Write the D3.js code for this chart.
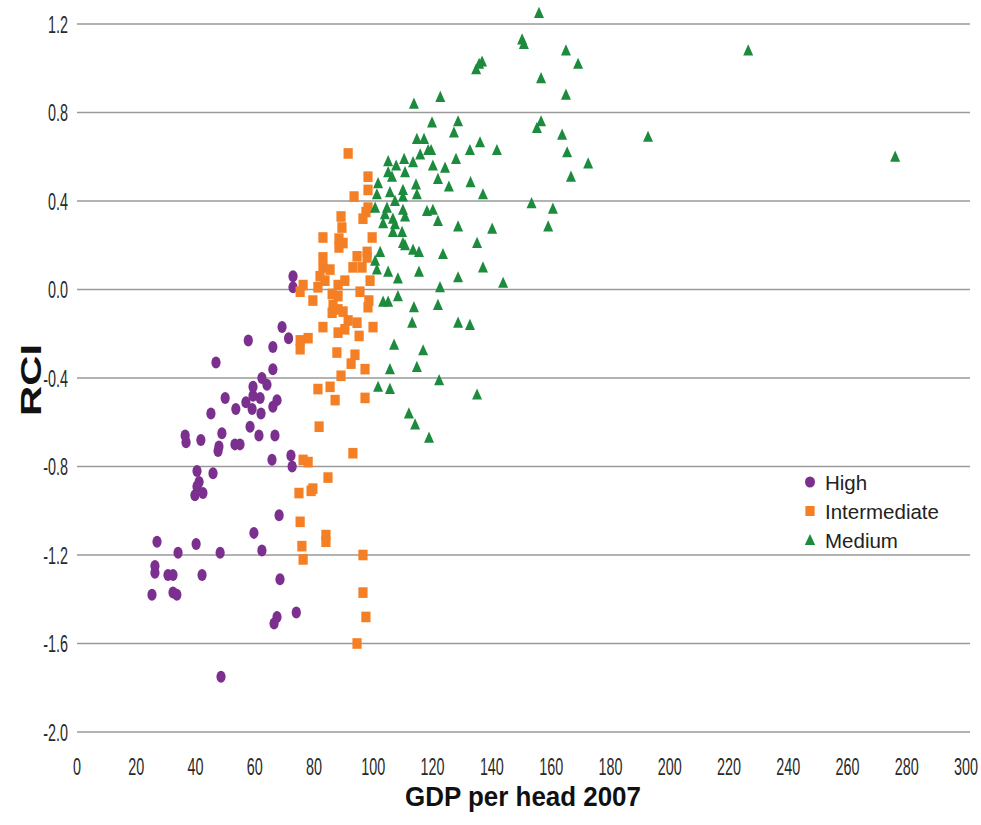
<!DOCTYPE html>
<html>
<head>
<meta charset="utf-8">
<script src="https://cdn.jsdelivr.net/npm/d3@7"></script>
<style>
  html, body { margin: 0; padding: 0; background: #fff; }
  svg { display: block; }
</style>
</head>
<body>
<svg id="chart" width="981" height="825"></svg>
<script>
// ---------- DATA ----------
const seriesNames = ["High", "Intermediate", "Medium"];
const xTicks = [0, 20, 40, 60, 80, 100, 120, 140, 160, 180, 200, 220, 240, 260, 280, 300];
const yTicks = [1.2, 0.8, 0.4, 0.0, -0.4, -0.8, -1.2, -1.6, -2.0];

// [GDP per head 2007, RCI]
const highPoints = [
  [72.9, 0.06], [72.9, 0.01], [69.2, -0.17], [71.4, -0.22], [57.8, -0.23], [66.1, -0.26],
  [46.9, -0.33], [66.1, -0.36], [62.4, -0.40], [64.1, -0.43], [59.4, -0.44], [59.4, -0.48],
  [61.8, -0.49], [50.0, -0.49], [57.0, -0.51], [67.5, -0.50], [66.1, -0.53], [53.6, -0.54],
  [59.1, -0.54], [62.1, -0.56], [45.2, -0.56], [58.4, -0.62], [48.9, -0.65], [61.4, -0.66],
  [66.8, -0.66], [36.5, -0.66], [36.8, -0.69], [41.8, -0.68], [55.0, -0.70], [53.3, -0.70],
  [47.9, -0.71], [47.6, -0.73], [65.8, -0.77], [72.2, -0.75], [72.6, -0.80], [40.5, -0.82],
  [45.9, -0.83], [41.2, -0.87], [40.5, -0.89], [39.8, -0.93], [42.5, -0.92], [68.2, -1.02],
  [59.7, -1.10], [62.4, -1.18], [27.0, -1.14], [40.2, -1.15], [34.1, -1.19], [48.3, -1.19],
  [26.3, -1.25], [26.3, -1.28], [30.7, -1.29], [32.4, -1.29], [42.2, -1.29], [68.5, -1.31],
  [25.3, -1.38], [32.4, -1.37], [33.7, -1.38], [74.0, -1.46], [67.5, -1.48], [66.5, -1.51],
  [48.6, -1.75]
];

const intermediatePoints = [
  [91.5, 0.615], [98.2, 0.51], [98.2, 0.45], [93.5, 0.42], [98.2, 0.37], [97.5, 0.35],
  [89.1, 0.33], [96.5, 0.32], [89.4, 0.28], [88.4, 0.23], [83.0, 0.235], [89.8, 0.21],
  [88.4, 0.19], [99.6, 0.235], [83.0, 0.145], [97.9, 0.17], [94.5, 0.15], [97.9, 0.145],
  [83.0, 0.10], [85.4, 0.09], [93.1, 0.10], [96.2, 0.10], [82.0, 0.06], [83.7, 0.04],
  [98.9, 0.04], [90.4, 0.04], [88.1, 0.02], [76.3, 0.02], [81.3, 0.01], [95.5, -0.01],
  [75.3, -0.01], [79.6, -0.05], [86.1, -0.02], [88.1, -0.03], [98.5, -0.05], [86.4, -0.07],
  [98.2, -0.08], [88.1, -0.09], [89.8, -0.10], [86.1, -0.105], [91.5, -0.14], [83.0, -0.17],
  [94.5, -0.15], [99.9, -0.17], [90.4, -0.18], [88.1, -0.195], [95.2, -0.21], [78.0, -0.22],
  [75.3, -0.23], [75.3, -0.27], [87.7, -0.285], [93.8, -0.295], [92.5, -0.335], [97.2, -0.36],
  [89.1, -0.39], [81.3, -0.45], [85.4, -0.44], [87.1, -0.50], [97.2, -0.49], [81.7, -0.62],
  [93.1, -0.74], [76.3, -0.77], [78.0, -0.78], [84.7, -0.85], [74.9, -0.92], [79.0, -0.91],
  [79.6, -0.90], [75.3, -1.05], [84.0, -1.11], [84.0, -1.14], [75.9, -1.16], [76.3, -1.22],
  [96.5, -1.20], [96.5, -1.37], [97.5, -1.48], [94.5, -1.60]
];

const mediumPoints = [
  [155.9, 1.25], [150.2, 1.13], [150.8, 1.11], [165.0, 1.08], [226.5, 1.08], [169.1, 1.02],
  [136.7, 1.03], [135.7, 1.02], [134.7, 0.995], [156.6, 0.955], [165.0, 0.88], [122.6, 0.87],
  [113.7, 0.84], [128.6, 0.76], [119.8, 0.755], [156.6, 0.76], [127.2, 0.71], [155.2, 0.73],
  [163.7, 0.70], [192.7, 0.69], [114.7, 0.68], [117.1, 0.68], [136.0, 0.665], [118.5, 0.63],
  [119.5, 0.63], [132.6, 0.63], [141.7, 0.63], [165.4, 0.62], [115.8, 0.61], [276.1, 0.60],
  [110.4, 0.59], [127.9, 0.59], [105.0, 0.58], [113.4, 0.575], [172.5, 0.57], [107.7, 0.56],
  [120.1, 0.56], [124.2, 0.55], [105.0, 0.53], [110.7, 0.53], [106.3, 0.51], [166.7, 0.51],
  [121.8, 0.50], [132.8, 0.485], [101.6, 0.48], [114.4, 0.475], [125.5, 0.465], [110.0, 0.45],
  [105.6, 0.44], [114.7, 0.43], [137.0, 0.43], [101.2, 0.43], [110.0, 0.42], [107.3, 0.40],
  [153.4, 0.39], [100.6, 0.37], [104.6, 0.37], [110.0, 0.36], [160.6, 0.365], [118.1, 0.355],
  [120.1, 0.36], [103.9, 0.34], [110.7, 0.33], [106.6, 0.32], [121.8, 0.31], [103.3, 0.30],
  [107.3, 0.295], [128.6, 0.285], [159.0, 0.285], [140.1, 0.275], [109.7, 0.26], [106.6, 0.26],
  [110.0, 0.21], [135.0, 0.21], [110.7, 0.20], [113.4, 0.18], [115.4, 0.17], [102.3, 0.17],
  [123.5, 0.16], [100.6, 0.13], [137.0, 0.10], [101.2, 0.09], [105.0, 0.08], [115.4, 0.08],
  [128.6, 0.055], [108.3, 0.05], [143.8, 0.03], [122.5, 0.01], [108.3, -0.03], [103.3, -0.055],
  [105.0, -0.055], [121.8, -0.07], [113.7, -0.08], [113.1, -0.15], [128.6, -0.15], [132.6, -0.16],
  [107.0, -0.25], [116.8, -0.275], [105.6, -0.36], [114.7, -0.35], [122.2, -0.41], [101.6, -0.44],
  [105.6, -0.45], [135.0, -0.475], [112.0, -0.56], [114.1, -0.61], [118.8, -0.67]
];

// ---------- DRAWING ----------
const colors = { High: "#7b2f8e", Intermediate: "#f47f24", Medium: "#1c8b3d" };
const svg = d3.select("#chart");

const x = d3.scaleLinear().domain([0, 300]).range([77, 966]);
const y = d3.scaleLinear().domain([-2.0, 1.2]).range([732, 24]);

const numFont = "'Liberation Sans', Arial, sans-serif";

// helper: measure a string in a given font
function measure(str, font, size, weight) {
  const t = svg.append("text").attr("font-family", font).attr("font-size", size)
    .attr("font-weight", weight || "normal").text(str);
  const w = t.node().getComputedTextLength();
  t.remove();
  return w;
}
const tickSize = 24;
const tickScale = 24 / measure("100", numFont, tickSize);

// gridlines
svg.append("g").selectAll("line").data(yTicks).join("line")
  .attr("x1", x(0)).attr("x2", 970)
  .attr("y1", d => y(d)).attr("y2", d => y(d))
  .attr("stroke", "#9a9a9a").attr("stroke-width", 1.4);

// y tick labels (plain hyphen minus as in the original)
svg.append("g").selectAll("text").data(yTicks).join("text")
  .attr("transform", d => `translate(68,${y(d) + 8.5}) scale(${tickScale},1)`)
  .attr("text-anchor", "end")
  .attr("font-family", numFont).attr("font-size", tickSize).attr("fill", "#2a2a2a")
  .text(d => d.toFixed(1));

// x tick labels
svg.append("g").selectAll("text").data(xTicks).join("text")
  .attr("transform", d => `translate(${x(d)},775) scale(${tickScale},1)`)
  .attr("text-anchor", "middle")
  .attr("font-family", numFont).attr("font-size", tickSize).attr("fill", "#2a2a2a")
  .text(d => String(d));

// axis titles
const xTitle = "GDP per head 2007";
const xTitleSize = 27;
const xTitleScale = 236 / measure(xTitle, numFont, xTitleSize, "bold");
svg.append("text")
  .attr("transform", `translate(523,806) scale(${xTitleScale},1)`)
  .attr("text-anchor", "middle").attr("font-family", numFont)
  .attr("font-size", xTitleSize).attr("font-weight", "bold").attr("fill", "#111")
  .text(xTitle);

const yTitle = "RCI";
const yTitleSize = 29;
const yTitleScale = 72 / measure(yTitle, numFont, yTitleSize, "bold");
svg.append("text")
  .attr("transform", `translate(41,380) rotate(-90) scale(${yTitleScale},1)`)
  .attr("text-anchor", "middle").attr("font-family", numFont)
  .attr("font-size", yTitleSize).attr("font-weight", "bold").attr("fill", "#111")
  .text(yTitle);

// marker shapes
const triPath = "M0,-6.2 L5,5 L-5,5 Z";

// High: ellipses
svg.append("g").selectAll("ellipse").data(highPoints).join("ellipse")
  .attr("cx", d => x(d[0])).attr("cy", d => y(d[1]))
  .attr("rx", 4.6).attr("ry", 6)
  .attr("fill", colors.High);

// Intermediate: squares
svg.append("g").selectAll("rect").data(intermediatePoints).join("rect")
  .attr("x", d => x(d[0]) - 4.6).attr("y", d => y(d[1]) - 5.3)
  .attr("width", 9.2).attr("height", 10.6)
  .attr("fill", colors.Intermediate);

// Medium: triangles
svg.append("g").selectAll("path").data(mediumPoints).join("path")
  .attr("transform", d => `translate(${x(d[0])},${y(d[1])})`)
  .attr("d", triPath)
  .attr("fill", colors.Medium);

// legend
const legend = svg.append("g");
const legY = [482, 511, 540];
seriesNames.forEach((name, i) => {
  const g = legend.append("g").attr("transform", `translate(810,${legY[i]})`);
  if (name === "High") {
    g.append("ellipse").attr("rx", 5).attr("ry", 5.6).attr("fill", colors.High);
  } else if (name === "Intermediate") {
    g.append("rect").attr("x", -4.6).attr("y", -5).attr("width", 9.2).attr("height", 10).attr("fill", colors.Intermediate);
  } else {
    g.append("path").attr("d", "M0,-6 L5.2,5 L-5.2,5 Z").attr("fill", colors.Medium);
  }
  g.append("text").attr("x", 15).attr("y", 7.5)
    .attr("font-family", numFont).attr("font-size", 20.5).attr("fill", "#222")
    .text(name);
});
</script>
</body>
</html>
